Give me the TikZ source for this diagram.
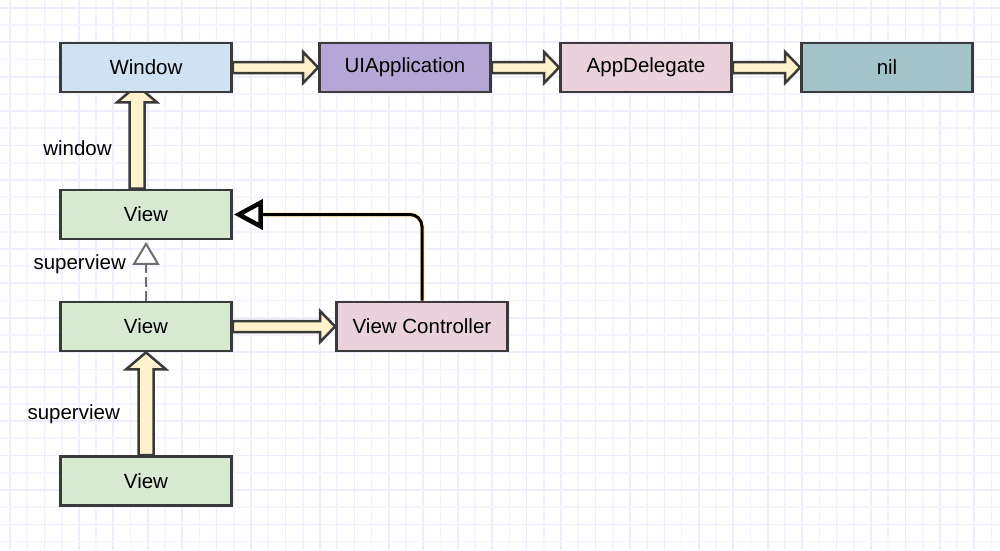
\documentclass[tikz,border=0pt]{standalone}
\usepackage{fontspec}
\setmainfont{Liberation Sans}
\usetikzlibrary{arrows.meta,calc}
\pgfdeclarelayer{bg}
\pgfsetlayers{bg,main}
\definecolor{gridminor}{HTML}{F5F4FE}
\definecolor{gridmajor}{HTML}{EEEDFD}
\definecolor{edge}{HTML}{3A3A3A}
\definecolor{cream}{HTML}{FFF2CC}
\definecolor{cblue}{HTML}{CFE2F3}
\definecolor{cpurple}{HTML}{B4A7D6}
\definecolor{cpink}{HTML}{EAD1DC}
\definecolor{cteal}{HTML}{A2C4C9}
\definecolor{cgreen}{HTML}{D9EAD3}
\definecolor{dashgray}{HTML}{6E6E6E}
\tikzset{
  box/.style={draw=edge, line width=2.8pt, minimum width=171pt, minimum height=49pt,
    inner sep=0pt, font=\fontsize{20.5}{24}\selectfont},
  lbl/.style={anchor=base, inner sep=0pt, font=\fontsize{20.5}{24}\selectfont},
  arrowbody/.style={fill=cream, draw=edge, line width=2.5pt, line join=miter},
}
% #1 start, #2 end, #3 half shaft width, #4 half head width, #5 head length
\newcommand\blockarrow[5]{%
  \coordinate (ba-s) at (#1);
  \coordinate (ba-e) at (#2);
  \coordinate (ba-h) at ($(ba-e)!#5!(ba-s)$);
  \filldraw[arrowbody] ($(ba-s)!#3!90:(ba-e)$) -- ($(ba-h)!#3!-90:(ba-s)$)
    -- ($(ba-h)!#4!-90:(ba-s)$) -- (ba-e) -- ($(ba-h)!#4!90:(ba-s)$)
    -- ($(ba-h)!#3!90:(ba-s)$) -- ($(ba-s)!#3!-90:(ba-e)$) -- cycle;
}
\begin{document}
\begin{tikzpicture}[x=1pt,y=-1pt]
\useasboundingbox (0,0) rectangle (1000,550);
\begin{pgfonlayer}{bg}
  \fill[white] (0,0) rectangle (1000,550);
  \foreach \i in {0,...,28} {
    \draw[gridminor, line width=1.7pt] ({27.22+34.44*\i},0) -- ({27.22+34.44*\i},550);
    \draw[gridmajor, line width=1.7pt] ({10+34.44*\i},0) -- ({10+34.44*\i},550);
  }
  \foreach \j in {0,...,15} {
    \draw[gridminor, line width=1.7pt] (0,{25.02+34.44*\j}) -- (1000,{25.02+34.44*\j});
    \draw[gridmajor, line width=1.7pt] (0,{7.8+34.44*\j}) -- (1000,{7.8+34.44*\j});
  }
\end{pgfonlayer}

\node[box, fill=cblue]   (win)   at (146,67.5)  {Window};
\node[box, fill=cpurple] (uiapp) at (405,67.5)  {UIApplication};
\node[box, fill=cpink]   (appd)  at (646,67.5)  {AppDelegate};
\node[box, fill=cteal]   (nil)   at (887,67.5)  {nil};
\node[box, fill=cgreen]  (v1)    at (146,214.5) {View};
\node[box, fill=cgreen]  (v2)    at (146,326.5) {View};
\node[box, fill=cgreen]  (v3)    at (146,481)   {View};
\node[box, fill=cpink]   (vc)    at (422,326.5) {View Controller};

\node[lbl] (lwin) at (77.5,155) {window};
\node[lbl] (lsup1) at (79.7,269) {superview};
\node[lbl] (lsup2) at (73.7,419) {superview};

\begin{pgfonlayer}{bg}
  \blockarrow{win.east}{uiapp.west}{5.5pt}{15.5pt}{15pt}
  \blockarrow{uiapp.east}{appd.west}{5.5pt}{15.5pt}{15pt}
  \blockarrow{appd.east}{nil.west}{5.5pt}{15.5pt}{15pt}
  \blockarrow{v2.east}{vc.west}{5.5pt}{15.5pt}{15pt}
  \blockarrow{[xshift=-9pt]v1.north}{[xshift=-9pt,yshift=8pt]win.south}{7.5pt}{20pt}{17pt}
  \blockarrow{v3.north}{v2.south}{7.5pt}{20pt}{17pt}
\end{pgfonlayer}

\draw[cream, line width=5.5pt, rounded corners=12pt]
  (vc.north) |- ([xshift=32pt]v1.east);
\draw[black, line width=3pt, rounded corners=12pt,
  -{Triangle[length=29pt, width=30pt, fill=white, line width=4.5pt]}]
  (vc.north) |- ([xshift=1pt]v1.east);

\draw[dashgray, line width=2pt, dash pattern=on 10pt off 4pt,
  -{Triangle[length=23pt, width=27pt, fill=white, line width=2pt]}]
  (v2.north) -- ([yshift=-1.5pt]v1.south);
\end{tikzpicture}
\end{document}
